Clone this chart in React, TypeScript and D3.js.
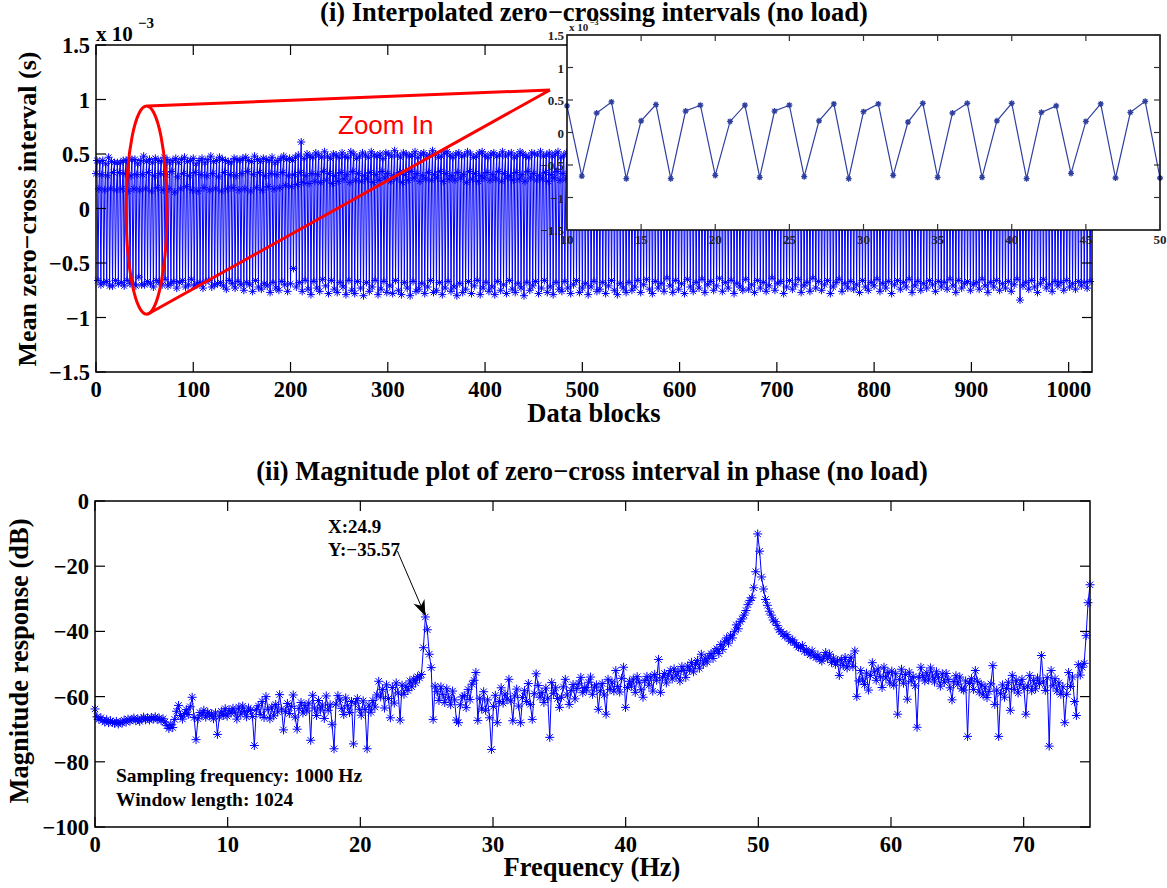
import React from 'react';
import * as d3 from 'd3';

const W = 1167;
const H = 888;

// (i) mean zero-cross interval per data block, in units of 0.01 x 10^-3 s
const zeroCrossInterval = [
  32,44,-66,18,43,-70, 31,44,-68,17,41,-67, 30,47,-71,18,43,-71, 33,42,-66,17,42,-69,
  33,42,-68,18,44,-71, 32,44,-66,16,45,-69, 30,45,-69,18,45,-71, 31,41,-63,17,44,-70,
  31,48,-70,18,43,-67,
  33,45,-69,16,42,-72, 30,46,-66,19,44,-68, 32,43,-70,17,47,-65, 31,45,-71,18,42,-69,
  34,44,-67,15,46,-73, 29,42,-68,18,45,-66, 32,47,-72,20,43,-70, 30,44,-65,17,46,-71,
  33,41,-69,16,44,-68, 31,46,-73,19,42,-67, 30,45,-66,17,48,-72, 32,43,-70,18,44,-69,
  29,47,-68,16,45,-71, 33,44,-74,18,43,-66, 31,42,-69,19,46,-73, 30,45,-67,17,44,-70,
  32,46,-75,18,47,-68, 34,44,-70,16,43,-76, 31,48,-66,19,45,-72, 33,43,-74,17,46,-69,
  30,45,-71,20,44,-77, 32,47,-68,18,42,-73, 31,44,-75,19,46,-67, 33,48,-70,21,45,-76,
  30,46,-69,20,44,-55,
  31,47,-72,22,49,-68, 33,61,-76,24,46,-66, 30,50,-74,23,48,-79, 32,47,-67,25,51,-73,
  31,49,-76,24,47,-65, 34,52,-71,26,48,-78, 32,46,-66,23,50,-74, 30,49,-77,25,47,-68,
  33,51,-72,27,48,-79, 31,47,-66,24,52,-75, 34,50,-78,26,46,-67, 32,48,-73,25,51,-80,
  30,49,-68,27,47,-76, 33,52,-72,24,49,-66, 31,48,-79,26,50,-74, 34,46,-67,28,51,-77,
  32,50,-71,25,48,-78, 30,53,-66,27,49,-75, 33,47,-79,24,51,-68, 31,50,-73,26,48,-80,
  34,49,-67,28,52,-76, 32,47,-74,25,50,-69, 30,51,-78,27,48,-72, 33,49,-66,26,53,-77,
  31,50,-75,28,47,-68, 34,48,-79,25,51,-73, 32,52,-67,27,49,-76, 30,47,-72,26,50,-80,
  33,51,-69,28,48,-77, 31,49,-74,24,52,-67, 34,50,-78,27,47,-71, 32,48,-66,25,51,-79,
  30,52,-73,28,49,-68, 33,47,-76,26,50,-72, 31,51,-79,27,48,-67, 34,49,-75,25,52,-70,
  32,48,-78,28,50,-66, 30,51,-74,26,47,-77, 33,49,-69,27,52,-73, 31,50,-80,25,48,-68,
  34,47,-75,28,51,-71, 32,50,-67,26,49,-78, 30,52,-73,27,48,-66, 33,49,-77,25,51,-72,
  31,48,-79,28,50,-68, 34,52,-74,26,47,-76, 32,49,-67,27,51,-73, 30,50,-78,25,48,-70,
  33,51,-66,28,49,-77, 31,47,-73,26,52,-69, 34,50,-79,27,48,-72, 32,51,-67,25,49,-76,
  30,52,-74,28,50,-68, 33,48,-78,26,51,-71, 31,49,-66,27,53,-75, 34,47,-79,25,50,-69,
  32,51,-73,28,49,-77,
  30,50,-68,27,48,-75, 33,52,-72,26,49,-66, 31,47,-77,28,51,-70, 34,50,-65,25,48,-74,
  32,49,-78,27,52,-67, 30,48,-73,26,50,-69, 33,51,-76,28,47,-64, 31,50,-71,25,49,-77,
  34,52,-66,27,48,-74, 32,49,-69,26,51,-78, 30,50,-65,28,47,-72, 33,48,-76,25,52,-68,
  31,51,-73,27,49,-65, 34,47,-77,26,50,-70, 32,52,-67,28,48,-75, 30,49,-71,25,51,-64,
  33,50,-76,27,48,-68, 31,52,-73,26,49,-66, 34,47,-78,28,51,-69, 32,50,-72,25,48,-75,
  30,49,-65,27,52,-74, 33,48,-70,26,50,-77, 31,51,-66,28,47,-73, 34,49,-68,25,52,-76,
  32,48,-71,27,50,-64, 30,52,-75,26,49,-69, 33,47,-67,28,51,-78, 31,50,-72,25,48,-66,
  34,51,-74,27,49,-70, 32,48,-65,26,52,-77, 30,50,-71,28,47,-68, 33,49,-76,25,51,-64,
  31,52,-73,27,48,-67, 34,50,-75,26,49,-70, 32,51,-66,28,47,-78, 30,48,-72,25,50,-68,
  33,49,-65,27,52,-76, 31,47,-69,26,50,-73, 34,51,-67,28,48,-74, 32,50,-70,25,49,-77,
  30,48,-66,27,51,-72, 33,52,-75,26,49,-68, 31,47,-71,28,50,-65, 34,48,-76,25,51,-69,
  32,50,-73,27,48,-67, 30,51,-78,26,52,-70, 33,49,-66,28,47,-74, 31,50,-68,25,48,-72,
  34,52,-65,27,49,-77, 32,48,-71,26,50,-67, 30,47,-75,28,51,-69, 33,49,-73,25,52,-66,
  31,48,-70,27,50,-76, 34,51,-67,26,47,-72, 32,49,-68,28,52,-74, 30,50,-65,25,48,-71,
  33,47,-77,27,51,-66, 31,49,-73,26,50,-69, 34,52,-67,28,48,-75, 32,47,-70,25,51,-68,
  30,50,-74,27,49,-65, 33,48,-71,26,51,-77, 31,52,-68,28,50,-72, 34,47,-66,25,49,-75,
  32,51,-69,27,48,-73, 30,50,-67,26,52,-76, 33,49,-70,28,47,-65, 31,48,-84,25,50,-71,
  34,52,-68,27,49,-74, 32,47,-66,26,51,-72, 30,50,-77,28,48,-69, 33,52,-65,25,49,-73,
  31,48,-70,27,50,-76, 34,51,-67,26,47,-71, 32,49,-68,28,52,-75, 30,50,-66,25,48,-72,
  33,47,-69,27,51,-74, 31,49,-67,26,50,-71, 34,52,-68,28,48,-73,
  32,50,-67,26,
];

// (ii) magnitude response in dB, one value per FFT bin (0 .. 75 Hz)
const magnitudeDb = [
  -63.8,-66.2,-67.0,-66.5,-67.3,-67.8,-67.1,-68.0,-67.4,-67.9,
  -68.2,-67.6,-68.4,-67.9,-68.1,-67.2,-67.8,-66.9,-67.5,-67.0,
  -66.6,-67.4,-66.8,-67.6,-66.9,-66.3,-67.1,-66.5,-67.2,-66.4,
  -66.9,-66.2,-67.0,-66.6,-67.3,-66.8,-67.8,-68.9,-69.8,-68.6,
  -69.5,-67.0,-64.5,-62.7,-65.8,-66.9,-65.2,-64.0,-65.5,-63.1,
  -60.2,-66.4,-73.2,-66.8,-64.9,-65.7,-64.2,-66.3,-64.8,-65.9,
  -65.3,-66.8,-65.0,-71.6,-66.2,-64.5,-65.8,-63.7,-66.0,-64.2,
  -65.1,-63.6,-64.8,-66.9,-63.2,-65.4,-62.9,-64.6,-66.2,-63.5,
  -64.3,-66.1,-75.0,-64.0,-62.8,-65.5,-61.5,-66.4,-60.0,-63.9,
  -66.8,-63.2,-65.9,-62.4,-64.7,-59.4,-63.8,-70.2,-64.5,-62.1,
  -65.2,-63.0,-59.5,-66.3,-70.0,-63.6,-61.8,-65.0,-62.7,-64.4,
  -62.0,-73.4,-59.6,-63.5,-65.8,-61.2,-64.1,-62.6,-66.7,-59.8,
  -64.2,-62.5,-68.5,-76.0,-62.3,-59.7,-61.0,-63.6,-65.5,-60.4,
  -62.8,-64.9,-61.5,-74.5,-62.0,-60.6,-63.9,-65.7,-61.3,-64.0,
  -76.0,-62.6,-64.8,-61.2,-63.2,-59.5,-55.3,-60.1,-57.8,-63.5,
  -56.4,-60.6,-66.5,-57.2,-62.0,-55.8,-58.9,-67.2,-56.5,-59.3,
  -56.8,-58.1,-55.2,-57.0,-54.6,-55.8,-53.9,-54.3,-53.2,-45.0,
  -35.57,-39.5,-47.0,-51.1,-67.0,-56.8,-58.5,-61.2,-57.0,-59.4,
  -61.8,-57.6,-60.2,-62.5,-58.3,-61.0,-67.2,-68.0,-62.5,-60.1,
  -59.7,-63.4,-57.8,-60.9,-56.2,-55.0,-52.6,-67.3,-60.5,-63.8,
  -58.5,-64.2,-61.0,-66.5,-76.2,-63.0,-59.6,-68.0,-61.5,-57.3,
  -62.0,-59.2,-60.8,-54.7,-61.3,-67.4,-59.8,-57.7,-62.9,-68.0,
  -60.3,-58.2,-61.5,-56.0,-62.4,-67.0,-59.1,-53.0,-56.6,-60.2,
  -58.7,-61.8,-57.4,-60.5,-72.5,-55.7,-59.0,-57.3,-60.6,-63.3,
  -60.2,-57.0,-54.7,-59.5,-62.4,-58.1,-56.3,-60.7,-57.5,-55.9,
  -54.1,-58.8,-57.2,-58.0,-55.6,-54.0,-59.3,-57.1,-56.4,-63.9,
  -58.2,-56.0,-59.5,-65.4,-54.7,-57.8,-55.5,-58.3,-52.0,-56.9,
  -58.6,-54.4,-51.0,-63.3,-57.2,-55.3,-56.8,-54.6,-58.7,-53.9,
  -55.6,-57.9,-60.2,-55.1,-53.8,-56.5,-54.0,-58.3,-53.2,-55.0,
  -48.6,-58.7,-54.2,-52.9,-55.8,-53.4,-52.0,-54.6,-51.5,-53.7,
  -52.3,-55.2,-50.8,-52.0,-54.1,-50.6,-51.9,-49.5,-52.4,-50.2,
  -48.9,-51.3,-47.0,-50.0,-48.2,-49.4,-47.5,-46.8,-48.3,-46.0,
  -45.3,-46.8,-44.0,-45.5,-43.2,-42.0,-43.6,-41.2,-42.0,-40.1,
  -38.0,-39.2,-37.0,-36.2,-35.0,-33.6,-31.8,-30.5,-29.7,-26.6,
  -21.7,-10.1,-15.4,-23.3,-27.0,-30.2,-32.0,-33.8,-35.0,-36.5,
  -37.0,-38.2,-39.5,-40.1,-40.8,-41.5,-41.0,-42.3,-43.0,-42.6,
  -43.5,-44.2,-44.8,-45.0,-44.3,-46.1,-45.6,-46.5,-47.2,-46.0,
  -47.5,-48.0,-47.2,-48.6,-49.1,-47.8,-46.5,-48.4,-47.0,-49.5,
  -48.2,-50.1,-49.0,-53.5,-48.6,-50.5,-48.0,-51.2,-49.3,-47.9,
  -50.8,-46.0,-60.0,-55.2,-52.0,-54.6,-56.3,-52.8,-58.0,-53.5,
  -49.6,-52.4,-55.0,-51.5,-53.8,-57.2,-51.0,-54.3,-52.6,-55.8,
  -52.2,-56.5,-53.0,-65.4,-54.8,-51.6,-55.9,-53.2,-60.8,-52.5,
  -55.3,-53.8,-56.7,-69.4,-54.1,-51.0,-53.6,-55.2,-52.7,-54.9,
  -51.2,-53.7,-55.5,-52.4,-54.2,-56.8,-53.0,-55.6,-52.9,-54.8,
  -57.3,-61.0,-55.4,-53.6,-56.2,-54.0,-57.6,-58.0,-55.2,-72.2,
  -56.0,-54.5,-57.8,-52.0,-55.3,-58.6,-56.2,-59.5,-57.0,-60.3,
  -58.4,-56.1,-50.5,-62.4,-58.0,-72.2,-59.1,-56.4,-60.2,-57.5,
  -55.6,-64.2,-53.5,-57.8,-55.0,-58.9,-56.3,-54.7,-57.4,-65.4,
  -56.8,-53.5,-58.2,-55.1,-57.6,-54.3,-56.0,-47.4,-55.5,-58.1,
  -54.2,-75.2,-52.0,-56.7,-54.5,-58.3,-55.8,-59.3,-57.0,-68.0,
  -59.3,-52.6,-56.9,-54.0,-61.5,-65.8,-50.2,-53.4,-51.0,-49.8,
  -41.3,-31.2,-25.7,
];

const intervalRate = 150; // Hz, rate of the interval sequence
const fftLength = 1024;

const topXTicks = [0, 100, 200, 300, 400, 500, 600, 700, 800, 900, 1000];
const topYTicks = [-1.5, -1, -0.5, 0, 0.5, 1, 1.5];
const insetXTicks = [10, 15, 20, 25, 30, 35, 40, 45, 50];
const insetYTicks = [-1.5, -1, -0.5, 0, 0.5, 1, 1.5];
const botXTicks = [0, 10, 20, 30, 40, 50, 60, 70];
const botYTicks = [-100, -80, -60, -40, -20, 0];

const peakLabel = { f: 24.9, db: -35.57 };

const SERIF = "'Liberation Serif', 'Times New Roman', serif";
const SANS = "'Liberation Sans', Arial, sans-serif";

const fmt = (v: number) => String(v).replace('-', '\u2212');

function starPath(pts: [number, number][], r: number) {
  const d = r * 0.7071;
  let s = '';
  for (const [x, y] of pts) {
    s += `M${(x - r).toFixed(2)},${y.toFixed(2)}h${(2 * r).toFixed(2)}` +
      `M${x.toFixed(2)},${(y - r).toFixed(2)}v${(2 * r).toFixed(2)}` +
      `M${(x - d).toFixed(2)},${(y - d).toFixed(2)}l${(2 * d).toFixed(2)},${(2 * d).toFixed(2)}` +
      `M${(x - d).toFixed(2)},${(y + d).toFixed(2)}l${(2 * d).toFixed(2)},${(-2 * d).toFixed(2)}`;
  }
  return s;
}

function Frame({ x, y, tickLen, xTicks, yTicks, stroke, width, xLabels, yLabels, labelSize, labelFill, xLabelDy, yLabelDx, yLabelDy }: any) {
  const [x0, x1] = x.range();
  const [y0, y1] = y.range(); // y0 bottom, y1 top
  return (
    <g>
      <rect x={x0} y={y1} width={x1 - x0} height={y0 - y1} fill="none" stroke="#000" strokeWidth={width} />
      {xTicks.map((t: number) => (
        <g key={'x' + t}>
          <line x1={x(t)} x2={x(t)} y1={y0} y2={y0 - tickLen} stroke={stroke} strokeWidth={1.2} />
          <line x1={x(t)} x2={x(t)} y1={y1} y2={y1 + tickLen} stroke={stroke} strokeWidth={1.2} />
          {xLabels && (
            <text x={x(t)} y={y0 + xLabelDy} textAnchor="middle" fontFamily={SERIF} fontWeight="bold"
              fontSize={labelSize} fill={labelFill}>{fmt(t)}</text>
          )}
        </g>
      ))}
      {yTicks.map((t: number) => (
        <g key={'y' + t}>
          <line x1={x0} x2={x0 + tickLen} y1={y(t)} y2={y(t)} stroke={stroke} strokeWidth={1.2} />
          <line x1={x1} x2={x1 - tickLen} y1={y(t)} y2={y(t)} stroke={stroke} strokeWidth={1.2} />
          {yLabels && (
            <text x={x0 - yLabelDx} y={y(t) + yLabelDy} textAnchor="end" fontFamily={SERIF} fontWeight="bold"
              fontSize={labelSize} fill={labelFill}>{fmt(t)}</text>
          )}
        </g>
      ))}
    </g>
  );
}

export default function App() {
  // top panel
  const xTop = d3.scaleLinear().domain([0, 1024]).range([96, 1092]);
  const yTop = d3.scaleLinear().domain([-1.5, 1.5]).range([372, 45]);
  const topPts: [number, number][] = zeroCrossInterval.map((v, i) => [xTop(i), yTop(v / 100)]);
  const topLine = d3.line()(topPts) || '';

  // inset
  const xIn = d3.scaleLinear().domain([10, 50]).range([567, 1160]);
  const yIn = d3.scaleLinear().domain([-1.5, 1.5]).range([230, 35]);
  const inPts: [number, number][] = [];
  zeroCrossInterval.forEach((v, i) => { if (i >= 10 && i <= 50) inPts.push([xIn(i), yIn(v / 100)]); });
  const inLine = d3.line()(inPts) || '';

  // bottom panel
  const xBot = d3.scaleLinear().domain([0, 75]).range([95, 1090]);
  const yBot = d3.scaleLinear().domain([-100, 0]).range([827, 501]);
  const botPts: [number, number][] = magnitudeDb.map((v, k) => [xBot(k * intervalRate / fftLength), yBot(v)]);
  const botLine = d3.line()(botPts) || '';

  // zoom ellipse in data coords of the top panel
  const eX0 = xTop(31), eX1 = xTop(73), eY0 = yTop(0.94), eY1 = yTop(-0.97);
  const ecx = (eX0 + eX1) / 2, ecy = (eY0 + eY1) / 2;
  const zoomTip = [550, 90];

  // annotation arrow
  const tipX = xBot(peakLabel.f), tipY = yBot(peakLabel.db) - 1;
  const sX = tipX - 28, sY = tipY - 65;
  const len = Math.hypot(tipX - sX, tipY - sY);
  const ux = (tipX - sX) / len, uy = (tipY - sY) / len;
  const nx = -uy, ny = ux;
  const L = 16, hw = 6, notch = 5;
  const head = `M${tipX},${tipY}L${tipX - L * ux + hw * nx},${tipY - L * uy + hw * ny}L${tipX - (L - notch) * ux},${tipY - (L - notch) * uy}L${tipX - L * ux - hw * nx},${tipY - L * uy - hw * ny}Z`;

  const insetColor = '#2f3f9f';

  return (
    <svg width={W} height={H} viewBox={`0 0 ${W} ${H}`} style={{ position: 'absolute', left: 0, top: 0, background: '#fff' }}>
      <rect x={0} y={0} width={W} height={H} fill="#fff" />

      {/* ===== top panel ===== */}
      <path d={topLine} fill="none" stroke="#0000ff" strokeWidth={1} />
      <path d={starPath(topPts, 4)} fill="none" stroke="#0000ff" strokeWidth={1} />
      <Frame x={xTop} y={yTop} tickLen={10} xTicks={topXTicks} yTicks={topYTicks} stroke="#000" width={1.5}
        xLabels yLabels labelSize={22.5} labelFill="#000" xLabelDy={25} yLabelDx={6} yLabelDy={8} />
      <text x={96} y={41} fontFamily={SERIF} fontWeight="bold" fontSize={21}>x 10</text>
      <text x={138} y={28} fontFamily={SERIF} fontWeight="bold" fontSize={15}>{'\u22123'}</text>
      <text x={594} y={422} textAnchor="middle" fontFamily={SERIF} fontWeight="bold" fontSize={26.5}>Data blocks</text>
      <text transform="translate(36,209) rotate(-90)" textAnchor="middle" fontFamily={SERIF} fontWeight="bold" fontSize={26}>
        {'Mean zero\u2212cross interval (s)'}
      </text>

      {/* zoom marker */}
      <ellipse cx={ecx} cy={ecy} rx={(eX1 - eX0) / 2} ry={(eY1 - eY0) / 2} fill="none" stroke="#ff0000" strokeWidth={3} />
      <line x1={ecx + 1} y1={eY0} x2={zoomTip[0]} y2={zoomTip[1]} stroke="#ff0000" strokeWidth={3} />
      <line x1={ecx + 1} y1={eY1} x2={zoomTip[0]} y2={zoomTip[1]} stroke="#ff0000" strokeWidth={3} />
      <text x={338} y={134} fontFamily={SANS} fontSize={26} fill="#ff0000">Zoom In</text>

      {/* inset */}
      <rect x={567} y={35} width={593} height={195} fill="#fff" />
      <path d={inLine} fill="none" stroke={insetColor} strokeWidth={1.2} />
      <path d={starPath(inPts, 3)} fill="none" stroke={insetColor} strokeWidth={1.3} />
      <Frame x={xIn} y={yIn} tickLen={6} xTicks={insetXTicks} yTicks={insetYTicks} stroke="#333" width={1.5}
        xLabels yLabels labelSize={13} labelFill="#222" xLabelDy={14} yLabelDx={3} yLabelDy={5} />
      <text x={569} y={31} fontFamily={SERIF} fontWeight="bold" fontSize={11} fill="#222">x 10</text>
      <text x={590} y={25} fontFamily={SERIF} fontWeight="bold" fontSize={8} fill="#222">{'\u22123'}</text>

      <text x={594} y={21} textAnchor="middle" fontFamily={SERIF} fontWeight="bold" fontSize={26.5}>
        {'(i) Interpolated zero\u2212crossing intervals (no load)'}
      </text>

      {/* ===== bottom panel ===== */}
      <path d={botLine} fill="none" stroke="#0000ff" strokeWidth={1} />
      <path d={starPath(botPts, 4.5)} fill="none" stroke="#0000ff" strokeWidth={1} />
      <Frame x={xBot} y={yBot} tickLen={10} xTicks={botXTicks} yTicks={botYTicks} stroke="#000" width={1.5}
        xLabels yLabels labelSize={22.5} labelFill="#000" xLabelDy={25} yLabelDx={6} yLabelDy={8} />
      <text x={592} y={480} textAnchor="middle" fontFamily={SERIF} fontWeight="bold" fontSize={26.5}>
        {'(ii) Magnitude plot of zero\u2212cross interval in phase (no load)'}
      </text>
      <text x={592} y={876} textAnchor="middle" fontFamily={SERIF} fontWeight="bold" fontSize={26.5}>Frequency (Hz)</text>
      <text transform="translate(28,661) rotate(-90)" textAnchor="middle" fontFamily={SERIF} fontWeight="bold" fontSize={26.5}>
        Magnitude response (dB)
      </text>

      {/* data tip annotation */}
      <line x1={sX} y1={sY} x2={tipX - 10 * ux} y2={tipY - 10 * uy} stroke="#000" strokeWidth={1} />
      <path d={head} fill="#000" />
      <text x={328} y={533} fontFamily={SERIF} fontWeight="bold" fontSize={19}>{`X:${peakLabel.f}`}</text>
      <text x={328} y={556} fontFamily={SERIF} fontWeight="bold" fontSize={19}>{`Y:${fmt(peakLabel.db)}`}</text>

      <text x={116} y={782} fontFamily={SERIF} fontWeight="bold" fontSize={19.5}>Sampling frequency: 1000 Hz</text>
      <text x={116} y={806} fontFamily={SERIF} fontWeight="bold" fontSize={19.5}>Window length: 1024</text>
    </svg>
  );
}
